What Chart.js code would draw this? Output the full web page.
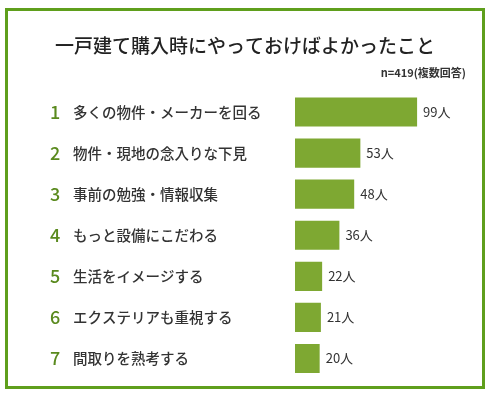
<!DOCTYPE html>
<html><head><meta charset="utf-8">
<script src="https://cdn.jsdelivr.net/npm/chart.js@4"></script>
<style>html,body{margin:0;padding:0;background:#fff;}#wrap{width:490px;height:393px;position:relative;}</style>
</head><body><div id="wrap"><canvas id="c" width="490" height="393"></canvas></div>
<script>
const title = "一戸建て購入時にやっておけばよかったこと";
const note = "n=419(複数回答)";
const ranks = ["1","2","3","4","5","6","7"];
const categories = ["多くの物件・メーカーを回る","物件・現地の念入りな下見","事前の勉強・情報収集","もっと設備にこだわる","生活をイメージする","エクステリアも重視する","間取りを熟考する"];
const values = [99,53,48,36,22,21,20];
const unit = "人";

const FONT = "'Noto Sans CJK JP','Noto Sans',sans-serif";
const deco = {
  id:'deco',
  afterDatasetsDraw(chart){
    const ctx = chart.ctx, y = chart.scales.y, x = chart.scales.x;
    ctx.save();
    ctx.strokeStyle = '#5f9f1c'; ctx.lineWidth = 3;
    ctx.strokeRect(6.5, 9.5, 477, 378);
    ctx.fillStyle = '#222'; ctx.textAlign='center'; ctx.textBaseline='middle';
    ctx.font = "500 19px " + FONT;
    ctx.fillText(title, 245, 46);
    ctx.font = "bold 11px " + FONT; ctx.textAlign='right'; ctx.fillStyle='#333';
    ctx.fillText(note, 466, 73);
    categories.forEach((c,i)=>{
      const py = y.getPixelForValue(i);
      ctx.textAlign='left';
      ctx.font = "500 18px " + FONT; ctx.fillStyle = '#5a8a1e';
      ctx.fillText(ranks[i], 50, py);
      ctx.font = "500 14.5px " + FONT; ctx.fillStyle = '#333';
      ctx.fillText(c, 73, py);
      ctx.font = "13px " + FONT; ctx.fillStyle = '#333';
      ctx.fillText(values[i] + unit, x.getPixelForValue(values[i]) + 6, py);
    });
    ctx.restore();
  }
};
new Chart(document.getElementById('c'), {
  type:'bar',
  data:{labels:categories, datasets:[{data:values, backgroundColor:'#7ea832', borderWidth:0, barPercentage:0.71, categoryPercentage:1}]},
  options:{
    indexAxis:'y', responsive:false, animation:false,
    layout:{padding:{left:295, right:10, top:91.5, bottom:14}},
    plugins:{legend:{display:false}, tooltip:{enabled:false}, title:{display:false}},
    scales:{
      x:{display:false, min:0, max:150},
      y:{display:false, offset:true}
    }
  },
  plugins:[deco]
});
</script></body></html>
